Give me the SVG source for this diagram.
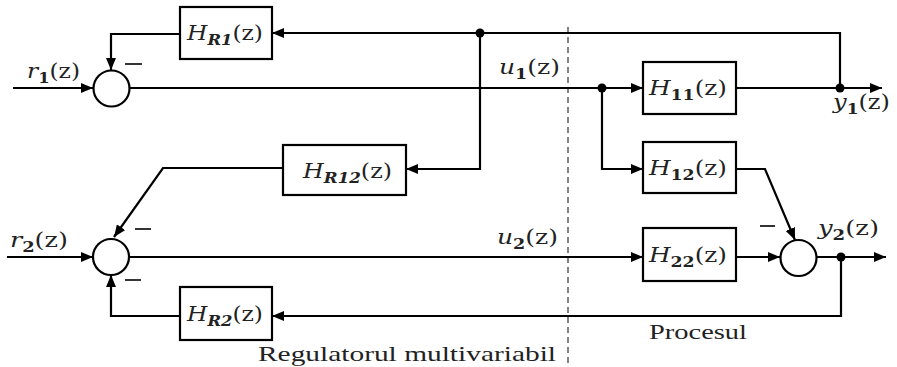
<svg xmlns="http://www.w3.org/2000/svg" width="897" height="367" viewBox="0 0 897 367">
  <defs>
    <marker id="arr" viewBox="0 0 12 10" refX="12" refY="5" markerWidth="12" markerHeight="10" markerUnits="userSpaceOnUse" orient="auto">
      <path d="M0,0 L12,5 L0,10 Z" fill="#000"/>
    </marker>
    <style>
      .blk { fill: #fff; stroke: #000; stroke-width: 2.2; }
      .sum { fill: #fff; stroke: #000; stroke-width: 2.2; }
      .w { fill: none; stroke: #000; stroke-width: 2.2; }
      .a { marker-end: url(#arr); }
      .dot { fill: #000; }
      .lbl { font-family: "DejaVu Serif", "Liberation Serif", serif; font-size: 20px; fill: #222; }
      .it { font-style: italic; }
      .sub { font-size: 14px; font-weight: bold; }
      .txt { font-family: "Liberation Serif", "DejaVu Serif", serif; font-size: 21px; fill: #222; }
      .minus { stroke: #000; stroke-width: 1.6; }
    </style>
  </defs>

  <rect width="897" height="367" fill="#fff"/>

  <!-- boundary between controller and process -->
  <line x1="568" y1="27" x2="568" y2="367" stroke="#666" stroke-width="1.6" stroke-dasharray="6,4"/>

  <!-- connectors -->
  <g id="connectors">
    <!-- loop 1 -->
    <path class="w a" d="M13,88 H93"/>
    <path class="w" d="M130,88 H602"/>
    <path class="w a" d="M602,88 H643"/>
    <path class="w a" d="M736,88 H882"/>
    <path class="w a" d="M840,88 V33 H272"/>
    <path class="w a" d="M180,34 H111 V70"/>
    <!-- cross coupling from u1 -->
    <path class="w a" d="M480,33 V169 H406"/>
    <path class="w a" d="M283,168 H163 L114,237"/>
    <path class="w a" d="M602,88 V169 H643"/>
    <path class="w a" d="M736,169 H765 L795,240"/>
    <!-- loop 2 -->
    <path class="w a" d="M7,257 H93"/>
    <path class="w a" d="M129,257 H643"/>
    <path class="w a" d="M736,257 H780"/>
    <path class="w a" d="M817,257 H886"/>
    <path class="w a" d="M841,257 V316 H272"/>
    <path class="w a" d="M180,316 H111 V275"/>
    <!-- branch points -->
    <circle class="dot" cx="480" cy="33" r="4.5"/>
    <circle class="dot" cx="602" cy="88" r="4.5"/>
    <circle class="dot" cx="840" cy="88" r="4.5"/>
    <circle class="dot" cx="841" cy="257" r="4.5"/>
  </g>

  <!-- summing junctions -->
  <g id="sum1">
    <circle class="sum" cx="111.5" cy="88.5" r="18"/>
    <line class="minus" x1="125" y1="64" x2="142" y2="64"/>
  </g>
  <g id="sum2">
    <circle class="sum" cx="111" cy="257" r="18"/>
    <line class="minus" x1="135" y1="229" x2="151" y2="229"/>
    <line class="minus" x1="125" y1="280" x2="141" y2="280"/>
  </g>
  <g id="sum3">
    <circle class="sum" cx="798.5" cy="258" r="18"/>
    <line class="minus" x1="760" y1="226" x2="775" y2="226"/>
  </g>

  <!-- blocks -->
  <g id="HR1">
    <rect class="blk" x="180" y="7" width="92" height="52"/>
    <text class="lbl" x="187" y="40" textLength="76" lengthAdjust="spacingAndGlyphs"><tspan class="it">H</tspan><tspan class="sub it" dy="5">R1</tspan><tspan dy="-5">(z)</tspan></text>
  </g>
  <g id="HR12">
    <rect class="blk" x="283" y="145" width="123" height="50"/>
    <text class="lbl" x="303" y="178" textLength="89" lengthAdjust="spacingAndGlyphs"><tspan class="it">H</tspan><tspan class="sub it" dy="5">R12</tspan><tspan dy="-5">(z)</tspan></text>
  </g>
  <g id="HR2">
    <rect class="blk" x="180" y="287" width="92" height="53"/>
    <text class="lbl" x="187" y="321" textLength="76" lengthAdjust="spacingAndGlyphs"><tspan class="it">H</tspan><tspan class="sub it" dy="5">R2</tspan><tspan dy="-5">(z)</tspan></text>
  </g>
  <g id="H11">
    <rect class="blk" x="643" y="62" width="93" height="52"/>
    <text class="lbl" x="649" y="95" textLength="78" lengthAdjust="spacingAndGlyphs"><tspan class="it">H</tspan><tspan class="sub" dy="5">11</tspan><tspan dy="-5">(z)</tspan></text>
  </g>
  <g id="H12">
    <rect class="blk" x="643" y="142" width="93" height="51"/>
    <text class="lbl" x="649" y="175" textLength="78" lengthAdjust="spacingAndGlyphs"><tspan class="it">H</tspan><tspan class="sub" dy="5">12</tspan><tspan dy="-5">(z)</tspan></text>
  </g>
  <g id="H22">
    <rect class="blk" x="643" y="228" width="93" height="53"/>
    <text class="lbl" x="649" y="262" textLength="78" lengthAdjust="spacingAndGlyphs"><tspan class="it">H</tspan><tspan class="sub" dy="5">22</tspan><tspan dy="-5">(z)</tspan></text>
  </g>

  <!-- signal labels -->
  <g id="labels">
    <text class="lbl" x="27" y="78" textLength="53" lengthAdjust="spacingAndGlyphs"><tspan class="it">r</tspan><tspan class="sub" dy="5">1</tspan><tspan dy="-5">(z)</tspan></text>
    <text class="lbl" x="10" y="247" textLength="58" lengthAdjust="spacingAndGlyphs"><tspan class="it">r</tspan><tspan class="sub" dy="5">2</tspan><tspan dy="-5">(z)</tspan></text>
    <text class="lbl" x="499" y="74" textLength="61" lengthAdjust="spacingAndGlyphs"><tspan class="it">u</tspan><tspan class="sub" dy="5">1</tspan><tspan dy="-5">(z)</tspan></text>
    <text class="lbl" x="497" y="244" textLength="61" lengthAdjust="spacingAndGlyphs"><tspan class="it">u</tspan><tspan class="sub" dy="5">2</tspan><tspan dy="-5">(z)</tspan></text>
    <text class="lbl" x="833" y="109" textLength="57" lengthAdjust="spacingAndGlyphs"><tspan class="it">y</tspan><tspan class="sub" dy="5">1</tspan><tspan dy="-5">(z)</tspan></text>
    <text class="lbl" x="818" y="235" textLength="61" lengthAdjust="spacingAndGlyphs"><tspan class="it">y</tspan><tspan class="sub" dy="5">2</tspan><tspan dy="-5">(z)</tspan></text>
    <text class="txt" x="258" y="361" textLength="298" lengthAdjust="spacingAndGlyphs">Regulatorul multivariabil</text>
    <text class="txt" x="649" y="339" textLength="98" lengthAdjust="spacingAndGlyphs">Procesul</text>
  </g>
</svg>
